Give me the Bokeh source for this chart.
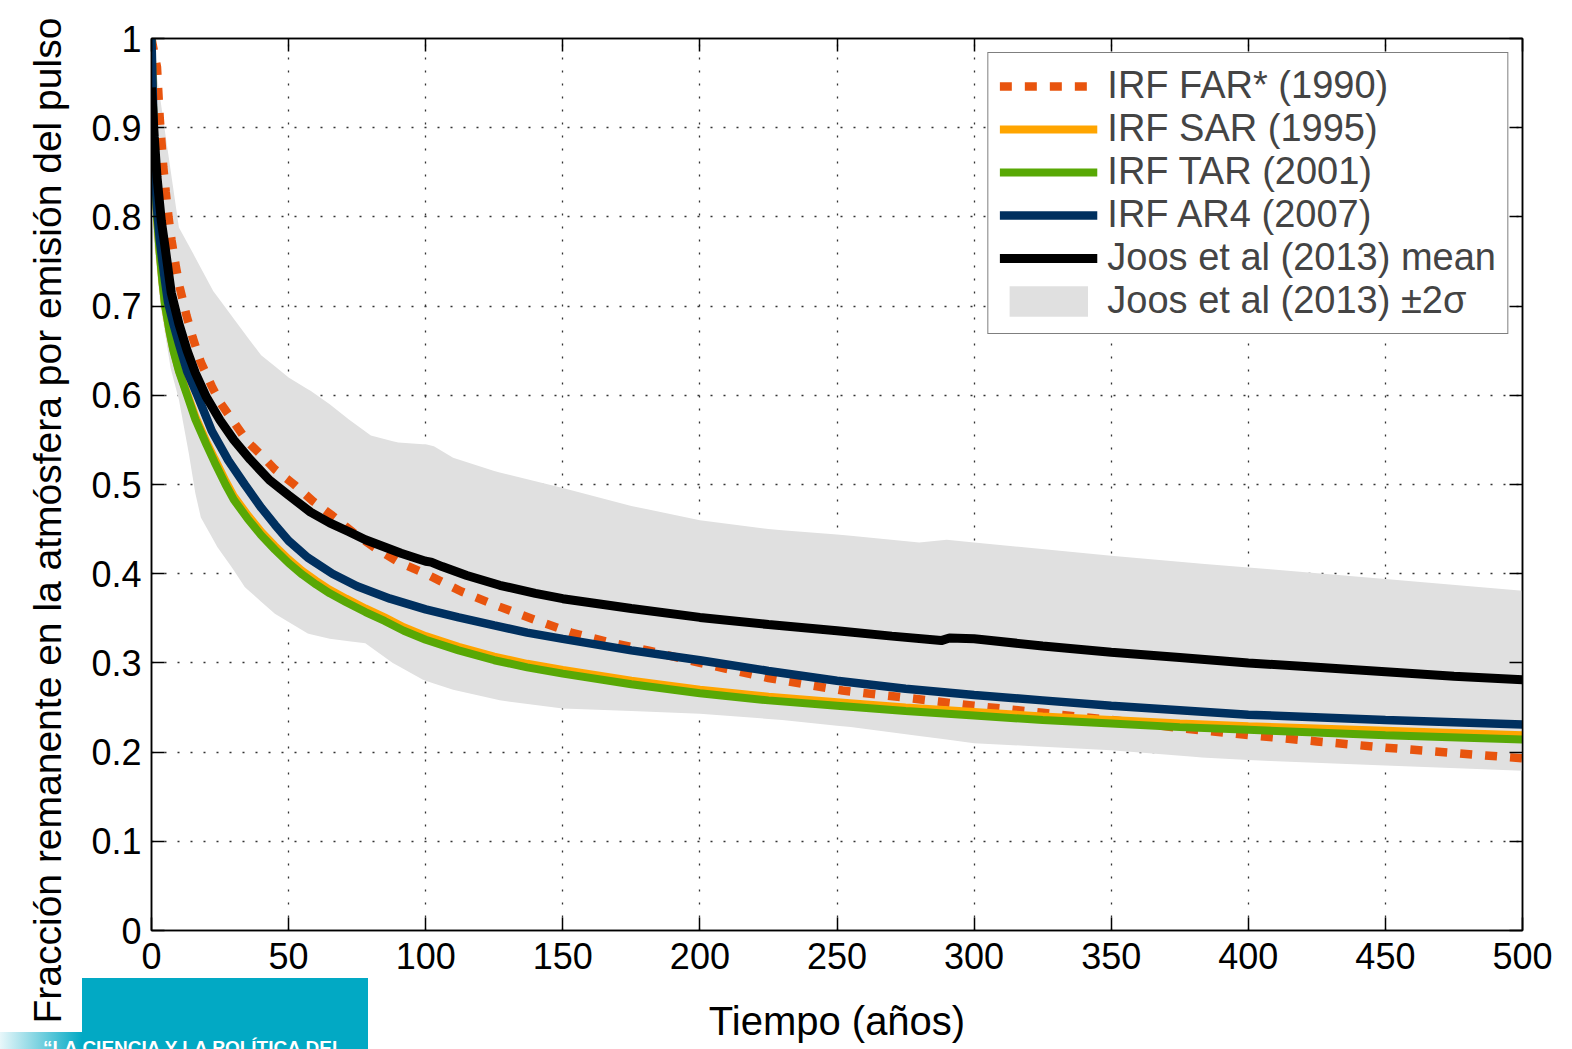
import numpy as np
from bokeh.plotting import figure
from bokeh.layouts import column
from bokeh.models import (Range1d, FixedTicker, LinearAxis, Legend, LegendItem,
                          Title, Div, CustomJSTickFormatter)
from bokeh.embed import file_html
from bokeh.resources import INLINE

# ---------------- data ----------------
x_ticks = [0, 50, 100, 150, 200, 250, 300, 350, 400, 450, 500]
y_ticks = [0, 0.1, 0.2, 0.3, 0.4, 0.5, 0.6, 0.7, 0.8, 0.9, 1.0]

far_t = [0, 2, 3, 4.3, 5.2, 6.2, 7.3, 8.9, 10.3, 12.8, 15, 18, 22, 25, 30, 35, 40, 45,
         52, 59, 66, 74, 82, 90, 100, 113, 126, 140, 153, 167, 181, 200, 225, 252, 275,
         300, 325, 350, 375, 400, 425, 450, 475, 500]
far_v = [1.0, 0.968, 0.911, 0.856, 0.828, 0.80, 0.774, 0.744, 0.721, 0.689, 0.665, 0.637,
         0.610, 0.592, 0.570, 0.548, 0.533, 0.517, 0.500, 0.481, 0.465, 0.445, 0.428, 0.413,
         0.400, 0.380, 0.364, 0.348, 0.334, 0.323, 0.314, 0.300, 0.283, 0.269, 0.261, 0.252,
         0.244, 0.236, 0.227, 0.219, 0.212, 0.205, 0.199, 0.193]

tar_t = [0, 1, 2, 3, 4, 5, 6.5, 8, 10, 13, 16, 20, 23, 27, 30, 35, 40, 45, 50, 55, 60, 65,
         71, 78, 85, 92, 100, 112, 125, 137, 150, 175, 200, 225, 250, 275, 300, 325, 350,
         375, 400, 450, 500]
tar_v = [1.0, 0.87, 0.80, 0.76, 0.727, 0.70, 0.673, 0.65, 0.627, 0.60, 0.573, 0.545, 0.525,
         0.50, 0.483, 0.462, 0.443, 0.427, 0.412, 0.399, 0.388, 0.378, 0.368, 0.357, 0.347,
         0.336, 0.326, 0.314, 0.303, 0.295, 0.288, 0.276, 0.266, 0.258, 0.252, 0.246, 0.241,
         0.236, 0.232, 0.228, 0.225, 0.219, 0.214]
sar_v = [1.0, 0.87, 0.80, 0.76, 0.727, 0.70, 0.673, 0.651, 0.628, 0.602, 0.576, 0.548,
         0.529, 0.504, 0.487, 0.466, 0.447, 0.431, 0.416, 0.403, 0.392, 0.382, 0.372, 0.361,
         0.351, 0.340, 0.330, 0.318, 0.307, 0.299, 0.292, 0.280, 0.270, 0.262, 0.256, 0.250,
         0.245, 0.240, 0.236, 0.232, 0.229, 0.224, 0.219]

ar4_t = [0, 1, 2, 3, 4, 5, 6, 8, 10, 13, 17, 22, 28, 34, 40, 45, 50, 57, 66, 75, 87, 100,
         112, 125, 137, 150, 175, 200, 225, 250, 275, 300, 325, 350, 375, 400, 450, 500]
ar4_v = [1.0, 0.87, 0.81, 0.775, 0.75, 0.727, 0.705, 0.68, 0.658, 0.627, 0.598, 0.56,
         0.527, 0.50, 0.474, 0.455, 0.437, 0.418, 0.40, 0.386, 0.372, 0.36, 0.351, 0.342,
         0.334, 0.327, 0.314, 0.303, 0.291, 0.280, 0.271, 0.264, 0.258, 0.252, 0.247,
         0.242, 0.236, 0.231]

joos_t = [0, 1, 2, 3.6, 5, 7.2, 10, 13, 16, 20, 25, 30, 36, 43, 50, 58, 65, 72, 78, 85,
          91, 98, 100, 102, 106, 115, 127, 140, 150, 175, 200, 225, 250, 270, 288, 291,
          300, 325, 350, 375, 400, 425, 450, 475, 500]
joos_v = [0.945, 0.89, 0.845, 0.795, 0.765, 0.715, 0.68, 0.65, 0.625, 0.598, 0.572, 0.55,
          0.528, 0.505, 0.488, 0.469, 0.457, 0.447, 0.438, 0.43, 0.423, 0.416, 0.414,
          0.413, 0.408, 0.398, 0.387, 0.378, 0.372, 0.361, 0.351, 0.343, 0.336, 0.330,
          0.325, 0.328, 0.327, 0.319, 0.312, 0.306, 0.300, 0.295, 0.290, 0.285, 0.281]

band_up_t = [0, 2.6, 5, 7.5, 10, 15, 22.5, 29, 35, 40, 50, 58, 65, 72, 80, 90, 100, 103,
             110, 125, 150, 175, 200, 225, 250, 280, 290, 320, 350, 380, 400, 450, 500]
band_up_v = [1.0, 0.945, 0.894, 0.841, 0.788, 0.76, 0.717, 0.69, 0.665, 0.645, 0.62, 0.605,
             0.59, 0.573, 0.555, 0.547, 0.545, 0.543, 0.53, 0.515, 0.496, 0.476, 0.46,
             0.45, 0.444, 0.435, 0.438, 0.429, 0.42, 0.412, 0.407, 0.394, 0.381]
band_lo_t = [0, 3.3, 7, 10, 13.6, 16, 18, 24, 30, 34, 45, 57, 65, 78, 88, 99, 110, 127,
             150, 175, 200, 230, 255, 280, 300, 350, 383, 408, 450, 500]
band_lo_v = [0.80, 0.70, 0.63, 0.595, 0.535, 0.49, 0.463, 0.43, 0.404, 0.385, 0.355, 0.333,
             0.327, 0.322, 0.30, 0.281, 0.27, 0.258, 0.249, 0.246, 0.243, 0.236, 0.228,
             0.218, 0.21, 0.202, 0.194, 0.19, 0.185, 0.179]

labels = ["IRF FAR* (1990)", "IRF SAR (1995)", "IRF TAR (2001)", "IRF AR4 (2007)",
          "Joos et al (2013) mean", "Joos et al (2013) \u00b12\u03c3"]
x_title = "Tiempo (a\u00f1os)"
y_title = "Fracci\u00f3n remanente en la atm\u00f3sfera por emisi\u00f3n del pulso"
banner_text = "\u201cLA CIENCIA Y LA POL\u00cdTICA DEL"

# ---------------- figure ----------------
SANS = "Liberation Sans"

fig = figure(width=1572, height=1049, output_backend="svg", toolbar_location=None,
             x_range=Range1d(0, 500), y_range=Range1d(0, 1),
             min_border_left=151, min_border_right=50, min_border_top=38,
             min_border_bottom=119)
fig.background_fill_color = "white"
fig.border_fill_color = "white"
fig.outline_line_color = "black"
fig.outline_line_width = 1.5

bt = np.unique(np.concatenate([band_up_t, band_lo_t]))
up = np.interp(bt, band_up_t, band_up_v)
lo = np.interp(bt, band_lo_t, band_lo_v)
r_band = fig.varea(x=bt, y1=lo, y2=up, fill_color="#e0e0e0", fill_alpha=1.0)

r_far = fig.line(far_t, far_v, line_color="#e8540e", line_width=8.5, line_dash="12 13")
r_sar = fig.line(tar_t, sar_v, line_color="#ffa500", line_width=8)
r_tar = fig.line(tar_t, tar_v, line_color="#58a805", line_width=8)
r_ar4 = fig.line(ar4_t, ar4_v, line_color="#00305f", line_width=8.5)
r_joos = fig.line(joos_t, joos_v, line_color="black", line_width=9)

fmt = CustomJSTickFormatter(code="return Number(tick.toFixed(2)).toString();")
for ax in (fig.xaxis[0], fig.yaxis[0]):
    ax.major_tick_in = 13
    ax.major_tick_out = 0
    ax.minor_tick_line_color = None
    ax.axis_line_color = "black"
    ax.axis_line_width = 1.5
    ax.major_tick_line_width = 1.5
    ax.major_label_text_font = SANS
    ax.major_label_text_font_size = "36px"
    ax.major_label_text_color = "black"
fig.xaxis[0].ticker = FixedTicker(ticks=x_ticks)
fig.yaxis[0].ticker = FixedTicker(ticks=y_ticks)
fig.xaxis[0].formatter = fmt
fig.yaxis[0].formatter = fmt
fig.xaxis[0].major_label_standoff = 12
fig.yaxis[0].major_label_standoff = 10

# x title as the axis label
fig.xaxis[0].axis_label = x_title
fig.xaxis[0].axis_label_text_font = SANS
fig.xaxis[0].axis_label_text_font_size = "40px"
fig.xaxis[0].axis_label_text_font_style = "normal"
fig.xaxis[0].axis_label_text_color = "black"
fig.xaxis[0].axis_label_standoff = 27

blank = CustomJSTickFormatter(code="return '';")
for loc, tk in (("above", x_ticks), ("right", y_ticks)):
    ax = LinearAxis(ticker=FixedTicker(ticks=tk), formatter=blank,
                    major_tick_in=13, major_tick_out=0, minor_tick_line_color=None,
                    axis_line_color="black", axis_line_width=1.5,
                    major_tick_line_width=1.5, major_label_standoff=0)
    fig.add_layout(ax, loc)

for g in (fig.xgrid[0], fig.ygrid[0]):
    g.grid_line_color = "#333333"
    g.grid_line_dash = "2 11"
    g.grid_line_width = 1.3

# y title as a side-panel title (placed lower than centre, as in the reference)
fig.add_layout(Title(text=y_title, align="left", offset=-93, standoff=40,
                     text_font=SANS, text_font_size="39px", text_font_style="normal",
                     text_color="black"), "left")

legend = Legend(items=[
    LegendItem(label=labels[0], renderers=[r_far]),
    LegendItem(label=labels[1], renderers=[r_sar]),
    LegendItem(label=labels[2], renderers=[r_tar]),
    LegendItem(label=labels[3], renderers=[r_ar4]),
    LegendItem(label=labels[4], renderers=[r_joos]),
    LegendItem(label=labels[5], renderers=[r_band]),
], location="top_right")
legend.label_text_font = SANS
legend.label_text_font_size = "38px"
legend.glyph_width = 98
legend.glyph_height = 38
legend.label_height = 38
legend.spacing = 0
legend.padding = 11
legend.margin = 14
legend.label_standoff = 10
legend.border_line_color = "black"
legend.border_line_width = 1.5
legend.background_fill_color = "white"
legend.background_fill_alpha = 1.0
fig.add_layout(legend)

# teal banner of the source slide (absolutely positioned over the page corner)
banner = Div(text=(
    '<div style="position:absolute;left:0px;top:54px;width:82px;height:18px;'
    'background:linear-gradient(to right,#e8f7fa,#02a9c4);"></div>'
    '<div style="position:absolute;left:43px;top:59px;white-space:nowrap;'
    'font:bold 19px Liberation Sans, sans-serif;color:white;">' + banner_text +
    '</div>'),
    width=368, height=72, margin=0,
    styles={"position": "absolute", "left": "0px", "top": "978px",
            "background": "linear-gradient(to right, transparent 82px, #02a9c4 82px)",
            "overflow": "hidden", "z-index": "10"})

p = column(fig, banner)
open("out.html", "w").write(file_html(p, INLINE))
